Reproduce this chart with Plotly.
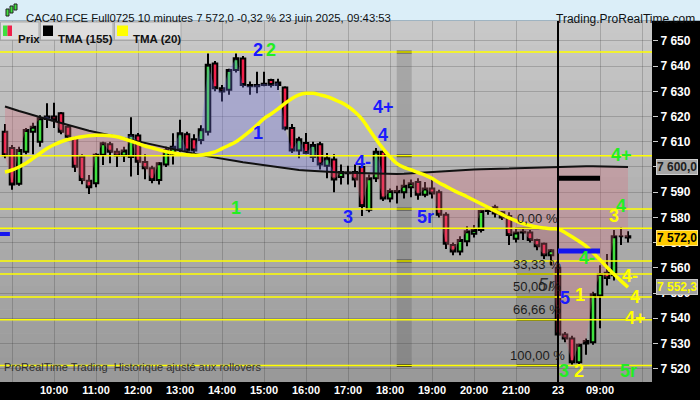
import pandas as pd
import plotly.graph_objects as go

# ---------------- data ----------------
session1 = pd.date_range("2025-06-20 08:50", "2025-06-20 21:50", freq="10min")
session2 = pd.date_range("2025-06-23 08:00", "2025-06-23 10:00", freq="10min")
slots = list(session1) + list(session2)  # axis slots (last two are empty future slots)

opens = [7614, 7607.5, 7593.3, 7606, 7614, 7610, 7619, 7620, 7621.3, 7616,
         7611.4, 7604.1, 7594.5, 7593.5, 7604.8, 7609, 7606, 7604.5, 7604, 7612.5,
         7602, 7599.5, 7594.8, 7601, 7605.2, 7607, 7613, 7611, 7610.7, 7614,
         7641, 7631.2, 7630.6, 7638.5, 7643, 7632.5, 7632, 7632.5, 7634.5, 7632.5,
         7631.5, 7615.5, 7606.5, 7609.5, 7604, 7609, 7600.5, 7603, 7596, 7597.5,
         7598, 7600, 7583, 7595.5, 7606, 7587.5, 7590.5, 7590, 7592, 7594,
         7589, 7591.5, 7590, 7581, 7569, 7566.5, 7570.5, 7573.5, 7575, 7582.5,
         7584, 7582, 7580.5, 7571.5, 7574, 7574, 7571, 7569.5, 7565, 7560,
         7533.5, 7532, 7522.5, 7530, 7530.5, 7549, 7558, 7557, 7572.5, 7572.5]
highs = [7617, 7608.7, 7608, 7615.5, 7617.5, 7620.5, 7625.3, 7625.5, 7621.8, 7616.5,
         7612, 7605, 7596.8, 7605.5, 7610, 7610, 7607.4, 7608, 7619.7, 7613.5,
         7605, 7600.5, 7602, 7608, 7613.4, 7618.7, 7614, 7613, 7616.5, 7645,
         7642, 7632.5, 7639, 7645, 7644, 7633.9, 7637.8, 7637.8, 7635, 7635,
         7632, 7617, 7612, 7613.5, 7610, 7610, 7605.5, 7605, 7601, 7600.5,
         7601, 7601, 7597, 7607.5, 7607.5, 7591.5, 7592.5, 7595, 7595, 7595.5,
         7594, 7595, 7591, 7582, 7570, 7572.5, 7576.5, 7577, 7583, 7584,
         7585, 7582.5, 7582, 7576, 7576, 7575, 7571.5, 7570, 7567.5, 7562,
         7534.5, 7533, 7530, 7532, 7550.5, 7561, 7565.5, 7575, 7576, 7574.5]
lows = [7603.5, 7591, 7592.5, 7605, 7605, 7608, 7615.5, 7615.5, 7613, 7611,
        7598, 7593.1, 7589.3, 7592, 7600.8, 7601.5, 7600, 7602, 7596.2, 7596.8,
        7595.1, 7593.5, 7593, 7600, 7601, 7606, 7605, 7605, 7609, 7612.5,
        7630, 7626, 7628.6, 7637.5, 7631.5, 7628.6, 7629.2, 7632, 7631.5, 7630.5,
        7614.5, 7605.5, 7603.5, 7605, 7602, 7599, 7595.5, 7590, 7593, 7593,
        7592, 7580.5, 7582, 7594, 7586.5, 7586, 7585.5, 7587.5, 7588, 7587,
        7588, 7587.5, 7580, 7567.5, 7565, 7565, 7568.5, 7572, 7574, 7581,
        7580, 7579, 7569, 7570, 7571, 7570, 7567, 7563.5, 7561, 7532,
        7530.5, 7521.5, 7521, 7525.5, 7529.5, 7536, 7553, 7555, 7569, 7570]
closes = [7604.6, 7593, 7606.7, 7614.7, 7616, 7619.3, 7620, 7618.5, 7614, 7612,
          7600.1, 7594.8, 7592, 7604.8, 7609.4, 7606, 7604.5, 7606.5, 7612.7, 7602.1,
          7599.5, 7594.8, 7601.5, 7606.7, 7608, 7613.4, 7606.5, 7606.5, 7615, 7640.5,
          7631.2, 7629.9, 7638.5, 7643.1, 7632.5, 7632, 7632.5, 7633, 7632.5, 7633.5,
          7615.3, 7606.5, 7611, 7605.5, 7608.7, 7601, 7603.5, 7595, 7598, 7597.8,
          7595, 7584.5, 7595.5, 7606, 7587.5, 7590.5, 7590, 7592.5, 7593.5, 7589,
          7591.5, 7589.5, 7581, 7569.5, 7566.5, 7571, 7574.5, 7575, 7582.5, 7583,
          7581.5, 7580, 7573, 7574, 7574.3, 7571, 7568.5, 7565, 7567, 7533.5,
          7532, 7522.5, 7529.5, 7531, 7549.5, 7557.5, 7556, 7572.5, 7572.5, 7572.0]
tma155 = [7624.0, 7623.0, 7622.2, 7621.4, 7620.5, 7619.6, 7618.9, 7618.2, 7617.4, 7616.6,
          7615.9, 7615.1, 7614.4, 7613.8, 7613.2, 7612.6, 7612.0, 7611.4, 7610.8, 7610.2,
          7609.6, 7608.9, 7608.2, 7607.5, 7606.9, 7606.3, 7605.7, 7605.1, 7604.7, 7604.2,
          7603.8, 7603.3, 7602.9, 7602.4, 7601.9, 7601.5, 7601.0, 7600.6, 7600.2, 7599.8,
          7599.4, 7599.1, 7598.8, 7598.6, 7598.4, 7598.2, 7598.0, 7597.9, 7597.8, 7597.7,
          7597.6, 7597.5, 7597.4, 7597.3, 7597.2, 7597.2, 7597.2, 7597.3, 7597.5, 7597.7,
          7597.9, 7598.1, 7598.3, 7598.5, 7598.7, 7598.8, 7598.9, 7599.0, 7599.1, 7599.2,
          7599.3, 7599.4, 7599.5, 7599.6, 7599.7, 7599.8, 7599.9, 7600.0, 7600.1, 7600.1,
          7600.2, 7600.2, 7600.2, 7600.3, 7600.3, 7600.3, 7600.2, 7600.1, 7600.0, 7600.0]
tma20 = [7598.0, 7598.8, 7600.0, 7601.5, 7603.4, 7605.4, 7607.3, 7608.8, 7610.0, 7610.9,
         7611.5, 7612.0, 7612.4, 7612.6, 7612.6, 7612.4, 7612.0, 7611.2, 7610.3, 7609.3,
         7608.3, 7607.6, 7606.8, 7606.1, 7605.6, 7605.1, 7604.8, 7604.6, 7604.7, 7605.3,
         7606.0, 7607.3, 7608.6, 7610.0, 7612.0, 7614.2, 7616.6, 7619.2, 7621.0, 7623.0,
         7625.2, 7627.2, 7628.6, 7629.2, 7629.2, 7628.6, 7627.9, 7626.8, 7625.6, 7624.0,
         7621.8, 7619.0, 7615.0, 7611.0, 7607.3, 7604.0, 7601.3, 7599.8, 7598.9, 7597.8,
         7596.8, 7595.5, 7593.7, 7592.3, 7590.8, 7589.5, 7588.2, 7586.8, 7585.4, 7584.0,
         7582.6, 7581.2, 7579.8, 7578.6, 7577.5, 7576.8, 7576.2, 7575.8, 7575.5, 7575.4,
         7574.0, 7572.3, 7570.5, 7568.6, 7566.0, 7563.2, 7560.2, 7557.4, 7554.8, 7552.3]

# drawn horizontal levels (yellow lines) and Fibonacci retracement
levels = [7645.6, 7604.4, 7583.3, 7562.7]
fib_hi, fib_lo = 7575.7, 7521.2
fib_pcts = [0.0, 33.33, 50.0, 66.66, 100.0]
fib_labels = ["0,00 %", "33,33 %", "50,00 %", "66,66 %", "100,00 %"]
zone_levels = [7645.6, 7604.4, 7583.3, 7562.7, 7521.2]
mark_black = 7595.5
mark_blue = 7566.7
mark_blue_left = 7573.4

# wave labels: text, colour key, bar position, price
wave_text = ["2", "2", "1", "1", "4+", "4", "4-", "3", "5r", "5", "1", "4-", "3", "4", "4+",
             "4-", "4", "4+", "5r", "3", "2"]
wave_col = ["b", "g", "g", "b", "b", "b", "b", "b", "b", "b", "y", "g", "y", "g", "g",
            "y", "y", "y", "g", "g", "y"]
wave_bar = [36.1, 38.0, 33.0, 36.1, 54.1, 54.0, 51.1, 49.0, 60.0, 80.0, 82.1, 83.1, 87.0, 88.0, 88.0,
            89.3, 90.0, 90.0, 89.0, 79.9, 82.0]
wave_price = [7646.4, 7646.4, 7583.7, 7613.5, 7623.8, 7612.7, 7602.0, 7580.2, 7580.2, 7548.0,
              7549.2, 7563.9, 7580.6, 7584.5, 7604.8, 7556.7, 7548.4, 7540.1, 7519.0, 7519.0, 7519.0]

# ---------------- geometry helpers ----------------
W, H = 700, 400
ML, MR, MT, MB = 0, 48, 21, 18
PW, PH = W - ML - MR, H - MT - MB


def px(xp):
    return (xp - ML) / PW


def py(yp):
    return (H - MB - yp) / PH


n = len(closes)
bars = list(range(n))
fib_levels = [fib_hi - (fib_hi - fib_lo) * p / 100 for p in fib_pcts]

fig = go.Figure()

upper = [max(c, m) for c, m in zip(closes, tma155)]
lower = [min(c, m) for c, m in zip(closes, tma155)]
common = dict(mode="lines", hoverinfo="skip", showlegend=False)
fig.add_trace(go.Scatter(x=bars, y=tma155, line=dict(width=0), **common))
fig.add_trace(go.Scatter(x=bars, y=upper, fill="tonexty", fillcolor="rgba(120,120,240,0.30)",
                         line=dict(width=0), **common))
fig.add_trace(go.Scatter(x=bars, y=tma155, line=dict(width=0), **common))
fig.add_trace(go.Scatter(x=bars, y=lower, fill="tonexty", fillcolor="rgba(214,111,128,0.32)",
                         line=dict(width=0), **common))

fig.add_trace(go.Candlestick(
    x=bars, open=opens, high=highs, low=lows, close=closes,
    increasing=dict(fillcolor="#3fe03f", line=dict(color="black", width=2)),
    decreasing=dict(fillcolor="#f0204a", line=dict(color="black", width=2)),
    whiskerwidth=0, showlegend=False, hoverinfo="skip"))

fig.add_trace(go.Scatter(x=bars, y=tma155, line=dict(color="#111111", width=2), **common))
fig.add_trace(go.Scatter(x=bars, y=tma20, line=dict(color="#ffff00", width=3.5, shape="spline"), **common))

# ---------------- shapes ----------------
shapes = []
# background gradient
top, bot = (201, 201, 201), (152, 152, 152)
NS = 30
for k in range(NS):
    f = (k + 0.5) / NS
    c = tuple(int(round(top[j] + (bot[j] - top[j]) * f)) for j in range(3))
    shapes.append(dict(type="rect", xref="paper", yref="paper", x0=0, x1=1,
                       y0=1 - (k + 1) / NS, y1=1 - k / NS + 0.001,
                       fillcolor="rgb(%d,%d,%d)" % c, line=dict(width=0), layer="below"))

x_first, x_last = -5 / 7, (PW - 5) / 7
# zone band (vertical gray band)
zb0, zb1 = 55.96, 58.1
shapes.append(dict(type="rect", xref="x", yref="y", x0=zb0, x1=zb1, y0=zone_levels[-1], y1=zone_levels[0],
                   fillcolor="rgba(70,70,70,0.22)", line=dict(width=0), layer="between"))
for lv in zone_levels:
    shapes.append(dict(type="line", xref="x", yref="y", x0=zb0, x1=zb1, y0=lv, y1=lv,
                       line=dict(color="black", width=2.5), layer="between"))
# fib band
fb0, fb1 = 73.1, 79.0
shapes.append(dict(type="rect", xref="x", yref="y", x0=fb0, x1=fb1, y0=fib_levels[-1], y1=fib_levels[0],
                   fillcolor="rgba(70,70,70,0.18)", line=dict(width=0), layer="between"))
for lv in fib_levels:
    shapes.append(dict(type="line", xref="x", yref="y", x0=fb0, x1=fb1, y0=lv, y1=lv,
                       line=dict(color="black", width=2), layer="between"))

# yellow horizontal lines
for lv in levels + fib_levels:
    shapes.append(dict(type="line", xref="paper", yref="y", x0=0, x1=1, y0=lv, y1=lv,
                       line=dict(color="#ffff00", width=1.5), layer="above"))

# day separator
day_idx = [i for i in range(1, n) if slots[i].date() != slots[i - 1].date()][0]
shapes.append(dict(type="line", xref="x", yref="paper", x0=day_idx, x1=day_idx, y0=0, y1=1,
                   line=dict(color="black", width=2), layer="above"))
# thick markers
shapes.append(dict(type="line", xref="x", yref="y", x0=day_idx, x1=day_idx + 6, y0=mark_black, y1=mark_black,
                   line=dict(color="black", width=5), layer="above"))
shapes.append(dict(type="line", xref="x", yref="y", x0=day_idx, x1=day_idx + 6, y0=mark_blue, y1=mark_blue,
                   line=dict(color="#1414ee", width=5), layer="above"))
shapes.append(dict(type="line", xref="x", yref="y", x0=x_first, x1=0.7, y0=mark_blue_left, y1=mark_blue_left,
                   line=dict(color="#1414ee", width=4), layer="above"))

# title bar
shapes.append(dict(type="rect", xref="paper", yref="paper", x0=px(0), x1=px(W), y0=py(MT), y1=py(0),
                   fillcolor="#dbeef8", line=dict(width=0), layer="above"))
shapes.append(dict(type="line", xref="paper", yref="paper", x0=px(0), x1=px(W), y0=py(MT - 0.5), y1=py(MT - 0.5),
                   line=dict(color="#9fb4c2", width=1), layer="above"))
# title icon
for (x0, x1, y0, y1, col) in [(6, 9, 9, 16, "#3fe03f"), (10, 13, 6, 13, "#3fe03f"), (14, 17, 4, 10, "#3fe03f")]:
    shapes.append(dict(type="rect", xref="paper", yref="paper", x0=px(x0), x1=px(x1), y0=py(y1), y1=py(y0),
                       fillcolor=col, line=dict(color="#222", width=1), layer="above"))

# legend boxes
leg = [(0, 39, "Prix"), (40, 113, "TMA (155)"), (114, 181, "TMA (20)")]
for (x0, x1, _) in leg:
    shapes.append(dict(type="rect", xref="paper", yref="paper", x0=px(x0 + 0.5), x1=px(x1), y0=py(40), y1=py(22),
                       fillcolor="#dedede", line=dict(color="#a9a9a9", width=1), layer="above"))
for (x0, x1, col) in [(3, 7.5, "#3fe03f"), (7.5, 12, "#f0204a"), (43, 53, "black"), (117, 128, "#ffff00")]:
    shapes.append(dict(type="rect", xref="paper", yref="paper", x0=px(x0), x1=px(x1), y0=py(36), y1=py(25.5),
                       fillcolor=col, line=dict(width=0), layer="above"))

# ---------------- annotations ----------------
ann = []
colmap = {"b": "#1a1aff", "g": "#22ee22", "y": "#ffff00"}
for t, c, xb, pr in zip(wave_text, wave_col, wave_bar, wave_price):
    ann.append(dict(x=xb, y=pr, xref="x", yref="y", text=t, showarrow=False,
                    font=dict(family="Arial", size=18, color=colmap[c], weight="bold")))
# italic 5r on the fib box
ann.append(dict(x=77.3, y=7553.2, xref="x", yref="y", text="<i>5r</i>", showarrow=False,
                font=dict(family="Arial", size=18, color="#333333")))
for lv, lab in zip(fib_levels, fib_labels):
    ann.append(dict(x=76.07, y=lv, xref="x", yref="y", text=lab, showarrow=False, yshift=10,
                    font=dict(family="Arial", size=13, color="#1c1c1c")))


def fr(v):
    return f"{v:,.1f}".replace(",", " ").replace(".", ",")


for val, bg, fc, bc in [(tma155[-1], "#a6a6a6", "#202020", "#d0d0d0"),
                        (closes[-1], "#ffcc00", "#000000", "#ffe680"),
                        (tma20[-1], "#a0a0a0", "#ffff00", "#c8c8c8")]:
    ann.append(dict(x=px(656), y=val, xref="paper", yref="y", xanchor="left", text=fr(val),
                    showarrow=False, bgcolor=bg, bordercolor=bc, borderwidth=1, borderpad=0,
                    font=dict(family="Arial", size=12, color=fc, weight="bold")))

ann.append(dict(x=px(24), y=py(10.5), xref="paper", yref="paper", xanchor="left",
                text="CAC40 FCE Full0725 10 minutes 7 572,0 -0,32 % 23 juin 2025, 09:43:53",
                showarrow=False, font=dict(family="Arial", size=11.3, color="#111111")))
ann.append(dict(x=px(697), y=py(10.5), xref="paper", yref="paper", xanchor="right",
                text="Trading.ProRealTime.com", showarrow=False,
                font=dict(family="Arial", size=12, color="#111111")))
for (x0, x1, lab), tx in zip(leg, [16, 56, 131]):
    ann.append(dict(x=px(tx), y=py(31), xref="paper", yref="paper", xanchor="left", text=lab,
                    showarrow=False, font=dict(family="Arial", size=11.5, color="#111111", weight="bold")))
ann.append(dict(x=px(2), y=py(375), xref="paper", yref="paper", xanchor="left",
                text="ProRealTime Trading  Historique ajusté aux rollovers", showarrow=False,
                font=dict(family="Arial", size=11, color="#303030")))

# ---------------- x ticks ----------------
tickvals, ticktext = [], []
for i, t in enumerate(slots):
    if t.minute == 0:
        tickvals.append(i)
        if i > 0 and slots[i - 1].date() != t.date():
            ticktext.append(t.strftime("%d"))
        elif i in (1, len(slots) - 1):
            ticktext.append("")
        else:
            ticktext.append(t.strftime("%H:%M"))

fig.update_layout(
    width=W, height=H, autosize=False,
    margin=dict(l=ML, r=MR, t=MT, b=MB, pad=0),
    paper_bgcolor="black", plot_bgcolor="#b8b8b8",
    separators=", ",
    boxgap=0.35, boxgroupgap=0.0,
    shapes=shapes, annotations=ann, showlegend=False,
    font=dict(family="Arial"),
    xaxis=dict(range=[x_first, x_last], tickvals=tickvals, ticktext=ticktext,
               showgrid=True, gridcolor="rgba(40,40,40,0.22)", gridwidth=1,
               zeroline=False, showline=False, ticks="",
               tickfont=dict(family="Arial", size=11, color="white", weight="bold"),
               rangeslider=dict(visible=False), fixedrange=True),
    yaxis=dict(side="right", range=[7514.7, 7657.9], tick0=7520, dtick=10,
               tickformat=",.0f", showgrid=True, gridcolor="rgba(40,40,40,0.22)", gridwidth=1,
               zeroline=False, showline=False, ticks="outside", ticklen=5, tickcolor="#cccccc",
               tickfont=dict(family="Arial", size=12, color="white", weight="bold"), fixedrange=True),
)

fig.write_html("out.html", config={"displayModeBar": False},
               post_script="document.body.style.margin='0';document.body.style.overflow='hidden';")
